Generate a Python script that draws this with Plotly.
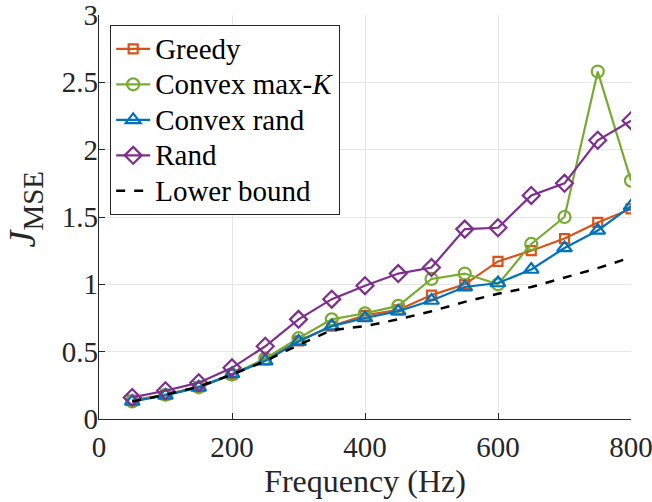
import plotly.graph_objects as go

freq = [50, 100, 150, 200, 250, 300, 350, 400, 450, 500, 550, 600, 650, 700, 750, 800]

greedy = [0.14, 0.18, 0.24, 0.33, 0.44, 0.58, 0.69, 0.77, 0.81, 0.92, 1.00, 1.17, 1.25, 1.34, 1.46, 1.56]
convex_maxk = [0.13, 0.18, 0.235, 0.33, 0.45, 0.60, 0.74, 0.785, 0.84, 1.04, 1.08, 1.00, 1.30, 1.50, 2.58, 1.77]
convex_rand = [0.13, 0.175, 0.235, 0.335, 0.43, 0.575, 0.69, 0.75, 0.80, 0.88, 0.98, 1.01, 1.11, 1.27, 1.40, 1.58]
rand = [0.16, 0.21, 0.27, 0.38, 0.54, 0.74, 0.89, 0.99, 1.08, 1.125, 1.41, 1.42, 1.66, 1.75, 2.07, 2.215]
lower_bound = [0.13, 0.18, 0.24, 0.33, 0.43, 0.55, 0.66, 0.69, 0.74, 0.80, 0.87, 0.93, 0.98, 1.05, 1.12, 1.20]

x_ticks = [0, 200, 400, 600, 800]
y_ticks = [0, 0.5, 1, 1.5, 2, 2.5, 3]
y_tick_text = ["0", "0.5", "1", "1.5", "2", "2.5", "3"]

FONT = "Liberation Serif"
AXIS_COLOR = "#262626"


def legend_label(text):
    # legend rows are spaced by the legend font; the label itself is drawn larger
    return f"<span style='font-size:29px'>{text}</span>"


series = [
    ("Greedy", greedy, "#D95319", "square-open", 9),
    ("Convex max-<i>K</i>", convex_maxk, "#77AC30", "circle-open", 12),
    ("Convex rand", convex_rand, "#0072BD", "triangle-up-open", 13),
    ("Rand", rand, "#7E2F8E", "diamond-open", 13),
]

fig = go.Figure()
for name, vals, color, sym, size in series:
    fig.add_trace(go.Scatter(
        x=freq, y=vals, name=legend_label(name), mode="lines+markers",
        line=dict(color=color, width=2.2),
        marker=dict(symbol=sym, size=size, color=color, line=dict(width=2.2, color=color)),
    ))

fig.add_trace(go.Scatter(
    x=freq, y=lower_bound, name=legend_label("Lower bound"), mode="lines",
    line=dict(color="black", width=2.5, dash="dash"),
))

fig.update_layout(
    width=652, height=502,
    margin=dict(l=99, r=21, t=15, b=83),
    paper_bgcolor="white", plot_bgcolor="white",
    font=dict(family=FONT, size=29, color=AXIS_COLOR),
    legend=dict(
        x=0.021, y=0.975, xanchor="left", yanchor="top",
        bgcolor="white", bordercolor=AXIS_COLOR, borderwidth=1,
        font=dict(family=FONT, size=25, color="black"),
        tracegroupgap=0, itemwidth=34,
    ),
    showlegend=True,
)

fig.update_xaxes(
    range=[0, 800], tickvals=x_ticks, ticktext=[str(v) for v in x_ticks],
    showgrid=True, gridcolor="#e6e6e6", gridwidth=1,
    showline=True, linecolor=AXIS_COLOR, linewidth=1.2,
    ticks="inside", ticklen=6, tickcolor=AXIS_COLOR,
    zeroline=False, mirror=False, automargin=False,
    ticklabeloverflow="allow", ticklabelstandoff=2,
    title=dict(text="Frequency (Hz)", font=dict(family=FONT, size=32, color=AXIS_COLOR), standoff=4),
    tickfont=dict(family=FONT, size=29, color=AXIS_COLOR),
)
fig.update_yaxes(
    range=[0, 3], tickvals=y_ticks, ticktext=y_tick_text,
    showgrid=True, gridcolor="#e6e6e6", gridwidth=1,
    showline=True, linecolor=AXIS_COLOR, linewidth=1.2,
    ticks="inside", ticklen=6, tickcolor=AXIS_COLOR,
    zeroline=False, mirror=False, automargin=False,
    ticklabeloverflow="allow", ticklabelstandoff=-6,
    tickfont=dict(family=FONT, size=29, color=AXIS_COLOR),
)

# y-axis title J_MSE, rotated, placed left of the tick labels
fig.add_annotation(
    text="<i>J</i><sub><span style='font-size:29px'>MSE</span></sub>",
    xref="paper", yref="paper", x=-0.14, y=0.52,
    xanchor="center", yanchor="middle", textangle=-90, showarrow=False,
    font=dict(family=FONT, size=38, color=AXIS_COLOR),
)

fig.write_html("out.html")
